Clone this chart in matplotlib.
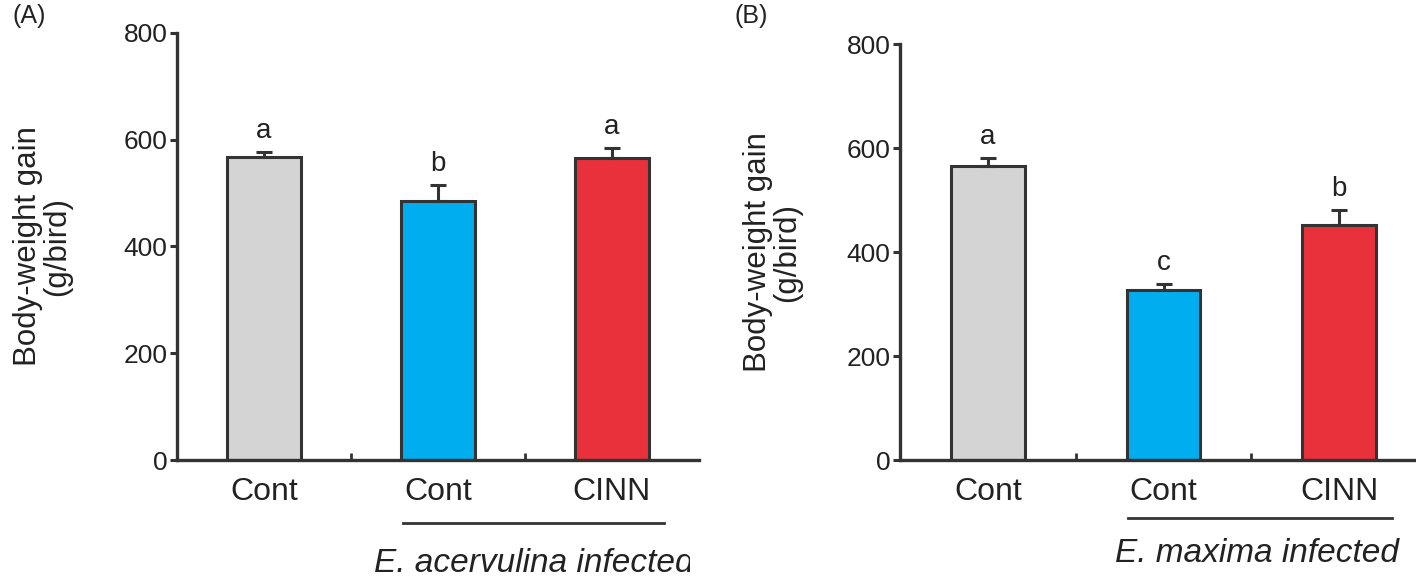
import matplotlib
matplotlib.use("Agg")
import matplotlib.pyplot as plt
import matplotlib.transforms as mtransforms
import numpy as np

plt.rcParams['font.family'] = ['Liberation Sans', 'DejaVu Sans']

# Datos
categories = ['Cont', 'Cont', 'CINN']
colors = ['#d4d4d4', '#00aeef', '#e8313a']

gain_a = [567, 486, 566]
err_a = [10, 29, 18]
letters_a = ['a', 'b', 'a']

gain_b = [566, 327, 452]
err_b = [14, 11, 29]
letters_b = ['a', 'c', 'b']

group_a = 'E. acervulina infected'
group_b = 'E. maxima infected'

edge = '#333333'
W, H = 1416, 577

fig = plt.figure(figsize=(W / 100, H / 100), dpi=100)
axA = fig.add_axes([177 / W, 117 / H, 522 / W, 427 / H])
axB = fig.add_axes([900 / W, 117 / H, 527 / W, 416 / H])


def draw_panel(ax, vals, errs, letters, group, label_x, line_y, text_x, text_y,
               clip_right=None):
    x = np.arange(len(vals))
    ax.bar(x, vals, width=0.42, color=colors, edgecolor=edge, linewidth=2.2, zorder=2)
    ax.errorbar(x, vals, yerr=[np.zeros(len(errs)), errs], fmt='none',
                ecolor=edge, elinewidth=2.2, capsize=6, capthick=2.2, zorder=3)
    for xi, v, e, lt in zip(x, vals, errs, letters):
        ax.annotate(lt, (xi, v + e), xytext=(0, 6), textcoords='offset points',
                    ha='center', va='bottom', fontsize=20, color='#222222')

    ax.set_xlim(-0.5, 2.5)
    ax.set_ylim(0, 800)
    ax.set_yticks([0, 200, 400, 600, 800])
    ax.set_xticks(x)
    ax.set_xticklabels(categories, fontsize=23, color='#222222')
    ax.set_xticks([0.5, 1.5], minor=True)
    ax.tick_params(axis='x', which='major', length=0, pad=12)
    ax.tick_params(axis='x', which='minor', direction='in', length=5, width=2, color=edge)
    ax.tick_params(axis='y', direction='out', length=5, width=2.2, color=edge,
                   labelsize=19, labelcolor='#222222', pad=2)
    for s in ['top', 'right']:
        ax.spines[s].set_visible(False)
    for s in ['left', 'bottom']:
        ax.spines[s].set_linewidth(2.4)
        ax.spines[s].set_color(edge)

    ax.set_ylabel('Body-weight gain\n(g/bird)', fontsize=22.5, color='#222222',
                  linespacing=1.0)
    ax.yaxis.set_label_coords(label_x, 0.5)

    trans = mtransforms.blended_transform_factory(ax.transData, ax.transAxes)
    ax.plot([0.8, 2.3], [line_y, line_y], transform=trans, color=edge,
            linewidth=2, clip_on=False)
    t = fig.text(text_x, text_y, group, transform=trans, ha='center', va='baseline',
                 fontsize=24, style='italic', color='#222222')
    if clip_right is not None:
        t.set_clip_box(mtransforms.TransformedBbox(
            mtransforms.Bbox.from_extents(0, 0, clip_right / W, 1), fig.transFigure))
        t.set_clip_on(True)


draw_panel(axA, gain_a, err_a, letters_a, group_a, -0.2, -0.1475, 1.55, -0.262,
           clip_right=690)
draw_panel(axB, gain_b, err_b, letters_b, group_b, -0.185, -0.139, 1.53, -0.245)

fig.text(12 / W, 1 - 16 / H, '(A)', fontsize=18, va='center', ha='left', color='#222222')
fig.text(735 / W, 1 - 16 / H, '(B)', fontsize=18, va='center', ha='left', color='#222222')

fig.savefig('out.png', dpi=100)
